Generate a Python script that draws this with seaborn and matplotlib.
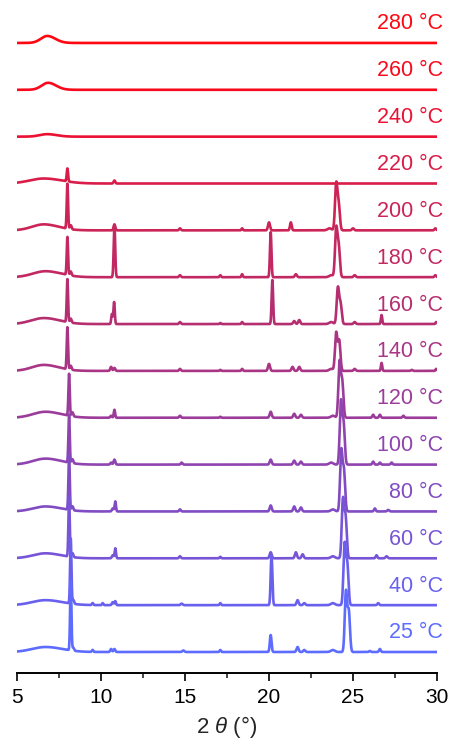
import numpy as np
import pandas as pd
import matplotlib
matplotlib.use("Agg")
import matplotlib.pyplot as plt
import seaborn as sns
from matplotlib.ticker import MultipleLocator
import matplotlib.transforms as mtransforms

# Temperatures, bottom to top
temps = ["25 °C", "40 °C", "60 °C", "80 °C", "100 °C", "120 °C", "140 °C",
         "160 °C", "180 °C", "200 °C", "220 °C", "240 °C", "260 °C", "280 °C"]

colors = ["#5d6cff", "#6a60ee", "#7755d6", "#814cc3", "#8f44b0", "#9b3c9b",
          "#a93584", "#b52e70", "#c22962", "#cc2456", "#da1d48", "#ea1132",
          "#f80a1c", "#ff0710"]

# Amorphous hump for each pattern: (centre, height, sigma)
humps = [(6.7, 5, 0.8), (6.7, 5, 0.8), (6.7, 5, 0.75), (6.7, 5, 0.75),
         (6.7, 6, 0.75), (6.7, 6, 0.75), (6.6, 6, 0.7), (6.6, 6, 0.75),
         (6.7, 6, 0.75), (6.6, 6, 0.7), (6.6, 5, 0.85), (6.8, 2.5, 0.45),
         (6.85, 7, 0.38), (6.8, 7, 0.38)]

# Bragg reflections: (2theta, intensity, sigma)
peaks_25 = [(8.2, 70, 0.04), (8.35, 3, 0.05), (9.5, 2, 0.04), (10.6, 3, 0.05),
            (10.8, 3, 0.05), (14.9, 1.5, 0.06), (17.1, 2, 0.04), (20.1, 17, 0.05),
            (21.7, 5, 0.06), (22.1, 2, 0.06), (23.8, 2, 0.12), (24.58, 60, 0.07),
            (24.75, 40, 0.07), (26.0, 1, 0.05), (26.6, 3, 0.05)]
peaks_40 = [(8.2, 65, 0.04), (8.35, 4, 0.05), (9.5, 2, 0.04), (10.1, 2, 0.04),
            (10.7, 3, 0.05), (10.85, 4, 0.04), (14.8, 1.5, 0.06), (17.1, 2, 0.04),
            (20.15, 50, 0.05), (21.7, 5, 0.06), (22.1, 2, 0.06), (23.8, 2, 0.12),
            (24.5, 60, 0.07), (24.66, 40, 0.07), (26.5, 2, 0.05)]
peaks_60 = [(8.1, 60, 0.04), (8.3, 4, 0.05), (10.7, 3, 0.05), (10.85, 10, 0.04),
            (14.7, 2, 0.05), (17.1, 1.5, 0.04), (20.1, 6, 0.06), (21.6, 6, 0.06),
            (22.0, 4, 0.06), (23.8, 2, 0.12), (24.4, 58, 0.07), (24.56, 40, 0.07),
            (26.4, 3, 0.05), (27.0, 2, 0.06)]
peaks_80 = [(8.1, 55, 0.04), (8.3, 4, 0.05), (10.7, 3, 0.05), (10.85, 10, 0.04),
            (14.7, 2, 0.05), (20.1, 6, 0.06), (21.5, 5, 0.06), (21.9, 4, 0.06),
            (23.8, 2, 0.12), (24.3, 60, 0.07), (24.46, 40, 0.07), (26.3, 3, 0.05),
            (27.1, 1.5, 0.06)]
peaks_100 = [(8.1, 48, 0.04), (8.3, 4, 0.05), (10.6, 2, 0.05), (10.8, 5, 0.05),
             (14.8, 2, 0.05), (20.1, 5, 0.06), (21.5, 4, 0.06), (21.9, 3, 0.06),
             (23.7, 2, 0.12), (24.28, 62, 0.07), (24.44, 40, 0.07), (26.2, 3, 0.05),
             (26.6, 2, 0.05), (27.3, 2, 0.05)]
peaks_120 = [(8.1, 42, 0.04), (8.3, 4, 0.05), (10.6, 2, 0.05), (10.8, 8, 0.04),
             (14.7, 2, 0.05), (17.1, 1, 0.04), (20.1, 6, 0.06), (21.5, 4, 0.06),
             (21.9, 3, 0.06), (23.8, 2, 0.12), (24.2, 55, 0.07), (24.36, 35, 0.07),
             (26.2, 3, 0.05), (26.6, 3, 0.05), (28.0, 2, 0.05)]
peaks_140 = [(8.0, 42, 0.04), (8.2, 4, 0.05), (10.6, 4, 0.05), (10.8, 3, 0.05),
             (14.7, 2, 0.05), (17.1, 1, 0.04), (18.4, 2, 0.04), (20.0, 7, 0.06),
             (21.4, 4, 0.06), (21.8, 4, 0.06), (23.7, 2, 0.12), (24.0, 38, 0.07),
             (24.18, 30, 0.07), (25.1, 2, 0.06), (26.7, 8, 0.04), (28.5, 1, 0.05),
             (29.95, 2, 0.04)]
peaks_160 = [(8.0, 43, 0.04), (8.2, 4, 0.05), (10.65, 10, 0.04), (10.78, 22, 0.04),
             (14.7, 2, 0.05), (17.1, 1, 0.04), (18.4, 2, 0.04), (20.2, 44, 0.045),
             (21.5, 3, 0.06), (21.8, 4, 0.06), (23.7, 2, 0.12), (24.1, 36, 0.07),
             (24.26, 20, 0.07), (25.1, 2, 0.06), (26.7, 9, 0.04), (29.95, 2, 0.04)]
peaks_180 = [(8.0, 38, 0.04), (8.2, 4, 0.05), (10.8, 52, 0.045), (14.7, 2, 0.05),
             (17.1, 2, 0.04), (18.4, 3, 0.04), (20.1, 45, 0.045), (21.6, 3, 0.06),
             (23.7, 2, 0.12), (24.0, 48, 0.07), (24.15, 30, 0.07), (25.1, 2, 0.06),
             (29.9, 2, 0.05)]
peaks_200 = [(8.0, 45, 0.04), (8.2, 4, 0.05), (10.8, 6, 0.05), (14.7, 2, 0.05),
             (18.4, 2, 0.04), (20.0, 8, 0.06), (21.3, 8, 0.05), (23.6, 2, 0.12),
             (24.0, 46, 0.07), (24.15, 25, 0.07), (25.0, 2, 0.06), (29.9, 2, 0.05)]
peaks_220 = [(8.0, 13, 0.04), (10.8, 3, 0.05)]
peaks_240 = []
peaks_260 = []
peaks_280 = []

all_peaks = [peaks_25, peaks_40, peaks_60, peaks_80, peaks_100, peaks_120,
             peaks_140, peaks_160, peaks_180, peaks_200, peaks_220, peaks_240,
             peaks_260, peaks_280]

two_theta = np.linspace(5, 30, 2501)
step = 46.85     # vertical offset between patterns
base = 21.0      # offset of the lowest pattern


def pattern(hump, peaks):
    c, h, s = hump
    # slightly skewed amorphous halo: wider tail towards high angle
    sig = np.where(two_theta < c, s, s * 1.25)
    y = h * np.exp(-0.5 * ((two_theta - c) / sig) ** 2)
    for pos, inten, sg in peaks:
        y = y + inten * np.exp(-0.5 * ((two_theta - pos) / sg) ** 2)
    return y


frames = []
for i, (t, hump, pk) in enumerate(zip(temps, humps, all_peaks)):
    frames.append(pd.DataFrame({
        "two_theta": two_theta,
        "intensity": pattern(hump, pk) + base + i * step,
        "temp": t,
    }))
df = pd.concat(frames, ignore_index=True)

sns.set_theme(style="white")
plt.rcParams["font.family"] = ["Liberation Sans", "DejaVu Sans"]
plt.rcParams["mathtext.fontset"] = "custom"
plt.rcParams["mathtext.it"] = "Liberation Sans:italic"
plt.rcParams["mathtext.rm"] = "Liberation Sans"

fig = plt.figure(figsize=(4.51, 7.40), dpi=100)
ax = fig.add_axes([17 / 451, 67 / 740, 420 / 451, 668 / 740])

palette = dict(zip(temps, colors))
sns.lineplot(data=df, x="two_theta", y="intensity", hue="temp",
             hue_order=temps[::-1], palette=palette, legend=False,
             linewidth=1.9, ax=ax, estimator=None, sort=False)

ax.set_xlim(5, 30)
ax.set_ylim(0, 668)
ax.xaxis.set_major_locator(MultipleLocator(5))
ax.xaxis.set_minor_locator(MultipleLocator(2.5))
ax.set_yticks([])
for side in ["top", "right", "left"]:
    ax.spines[side].set_visible(False)
ax.spines["bottom"].set_linewidth(1.4)
ax.spines["bottom"].set_color("black")
ax.tick_params(axis="x", which="major", direction="out", length=6, width=1.2,
               pad=5, labelsize=15, colors="black", bottom=True)
ax.tick_params(axis="x", which="minor", direction="out", length=3.5, width=1.2,
               bottom=True)
ax.set_xlabel(r"2 $\theta$ (°)", fontsize=16, labelpad=5)
ax.set_ylabel("")

trans = mtransforms.blended_transform_factory(ax.transAxes, ax.transData)
for i, (t, col) in enumerate(zip(temps, colors)):
    ax.text(1.014, base + i * step + 19, t, transform=trans, ha="right",
            va="center", fontsize=15.5, color=col, clip_on=False)

fig.savefig("out.png", dpi=100)
